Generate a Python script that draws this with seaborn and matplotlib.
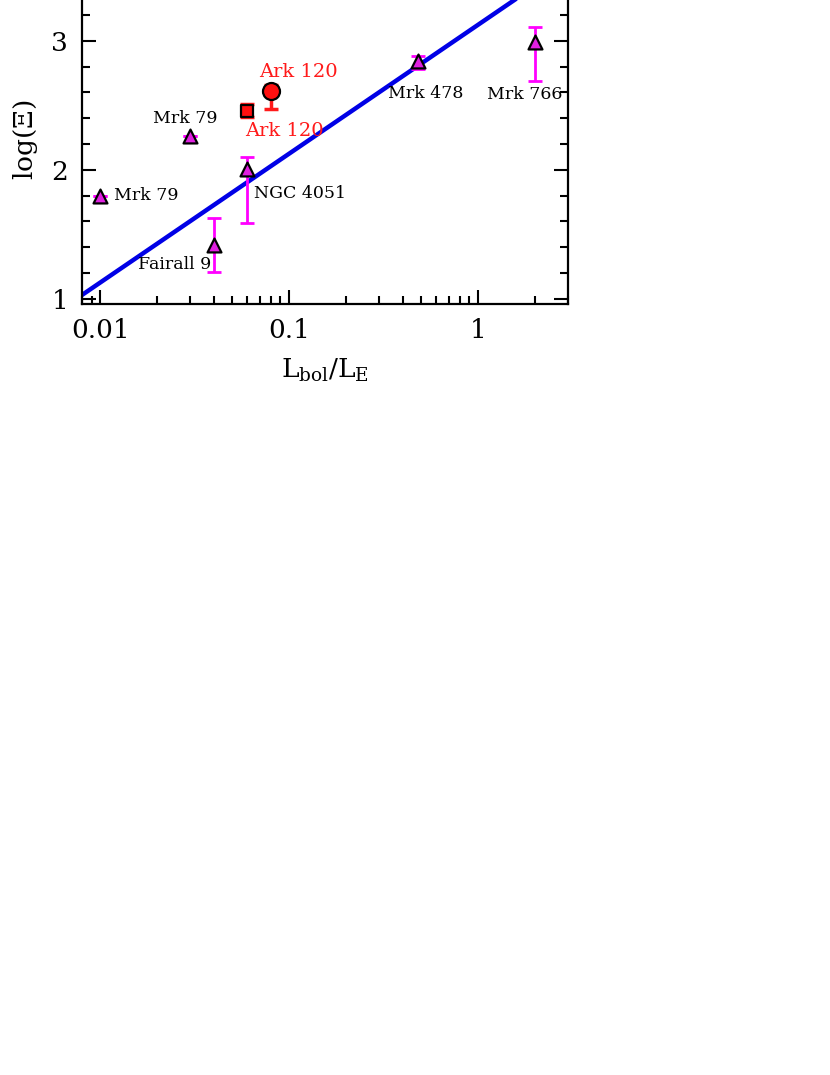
import numpy as np
import pandas as pd
import seaborn as sns
import matplotlib.pyplot as plt
from matplotlib.ticker import MultipleLocator, LogLocator, FixedLocator, FixedFormatter

sns.set_theme(style="ticks")
plt.rcParams['font.family'] = ['DejaVu Serif']
plt.rcParams['mathtext.default'] = 'regular'
plt.rcParams['text.color'] = 'black'
plt.rcParams['axes.labelcolor'] = 'black'
plt.rcParams['xtick.color'] = 'black'
plt.rcParams['ytick.color'] = 'black'

# AGN sample (triangles, magenta error bars)
names = ['Mrk 79', 'Mrk 79', 'Fairall 9', 'NGC 4051', 'Mrk 478', 'Mrk 766']
edd_ratio = [0.010, 0.030, 0.040, 0.060, 0.48, 2.0]
log_xi = [1.80, 2.26, 1.42, 2.01, 2.84, 2.99]
err_lo = [0.0, 0.0, 0.21, 0.42, 0.06, 0.30]
err_hi = [0.0, 0.0, 0.21, 0.09, 0.04, 0.12]

# Ark 120 (red)
ark_x = [0.060, 0.080]
ark_y = [2.46, 2.61]
ark_lo = [0.05, 0.14]
ark_hi = [0.05, 0.05]
ark_marker = ['s', 'o']

# fitted relation (end points)
fit_x = [0.008, 3.0]
fit_y = [1.03, 3.60]

df = pd.DataFrame({'x': edd_ratio, 'y': log_xi, 'name': names})

fig = plt.figure(figsize=(8.3, 10.75), dpi=100)
ax = fig.add_axes([0.0988, 0.7172, 0.5855, 0.3048])

sns.lineplot(x=fit_x, y=fit_y, color='#0000e6', lw=3.2, ax=ax, zorder=2)

ax.errorbar(edd_ratio, log_xi, yerr=[err_lo, err_hi], fmt='none', ecolor='#ff00ff',
            elinewidth=2, capsize=5, capthick=2, zorder=3)
sns.scatterplot(data=df, x='x', y='y', marker='^', s=100, color='#e020e0',
                edgecolor='black', linewidth=1.6, ax=ax, zorder=4)

ax.errorbar(ark_x, ark_y, yerr=[ark_lo, ark_hi], fmt='none', ecolor='#ff1a1a',
            elinewidth=2.5, capsize=5, capthick=2.5, zorder=3)
for xx, yy, mk in zip(ark_x, ark_y, ark_marker):
    sns.scatterplot(x=[xx], y=[yy], marker=mk, s=150 if mk == 'o' else 65,
                    color='#ff1010', edgecolor='black', linewidth=1.6, ax=ax, zorder=5)

# labels
lab_kw = dict(fontsize=12.5, color='black')
ax.annotate(names[0], (edd_ratio[0], log_xi[0]), xytext=(10, 0), textcoords='offset points',
            ha='left', va='center', **lab_kw)
ax.annotate(names[1], (edd_ratio[1], log_xi[1]), xytext=(-4, 13), textcoords='offset points',
            ha='center', va='center', **lab_kw)
ax.annotate(names[2], (edd_ratio[2], log_xi[2]), xytext=(-2, -14), textcoords='offset points',
            ha='right', va='center', **lab_kw)
ax.annotate(names[3], (edd_ratio[3], log_xi[3]), xytext=(5, -18), textcoords='offset points',
            ha='left', va='center', **lab_kw)
ax.annotate(names[4], (edd_ratio[4], log_xi[4]), xytext=(6, -23), textcoords='offset points',
            ha='center', va='center', **lab_kw)
ax.annotate(names[5], (edd_ratio[5], log_xi[5]), xytext=(-7, -38), textcoords='offset points',
            ha='center', va='center', **lab_kw)
ax.annotate('Ark 120', (ark_x[1], ark_y[1]), xytext=(20, 14), textcoords='offset points',
            ha='center', va='center', fontsize=14, color='#ff1a1a')
ax.annotate('Ark 120', (ark_x[0], ark_y[0]), xytext=(27, -15), textcoords='offset points',
            ha='center', va='center', fontsize=14, color='#ff1a1a')

ax.set_xscale('log')
ax.set_xlim(0.008, 3.0)
ax.set_ylim(0.96, 3.5)
ax.xaxis.set_major_locator(FixedLocator([0.01, 0.1, 1]))
ax.xaxis.set_major_formatter(FixedFormatter(['0.01', '0.1', '1']))
ax.xaxis.set_minor_locator(LogLocator(base=10, subs=np.arange(2, 10)))
ax.xaxis.set_minor_formatter(FixedFormatter([]))
ax.yaxis.set_major_locator(MultipleLocator(1))
ax.yaxis.set_minor_locator(MultipleLocator(0.2))

ax.tick_params(which='both', direction='in', top=True, right=True, width=1.5,
               labelsize=19, colors='black')
ax.tick_params(which='major', length=10, pad=10)
ax.tick_params(which='minor', length=6)
for s in ax.spines.values():
    s.set_linewidth(1.6)
    s.set_color('black')

ax.set_xlabel(r'L$_{bol}$/L$_{E}$', fontsize=19, labelpad=10, color='black')
ax.set_ylabel(r'log($\Xi$)', fontsize=19, labelpad=8, color='black')

fig.savefig('out.png', dpi=100)
